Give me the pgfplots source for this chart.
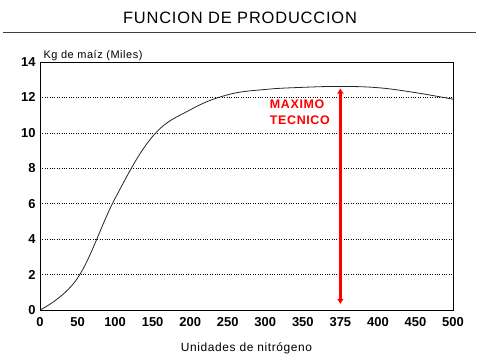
\documentclass[border=0pt]{standalone}
\usepackage{fontspec}
\setmainfont{Liberation Sans}
\newfontfamily\spaced[LetterSpace=5]{Liberation Sans}
\usepackage{pgfplots}
\pgfplotsset{compat=1.18}
\usetikzlibrary{arrows.meta}
\begin{document}
\begin{tikzpicture}
\path[use as bounding box] (0,0) rectangle (480bp,360bp);
\node[anchor=base, font={\fontsize{16.5}{18}\selectfont\spaced}] at (240bp,336.7bp) {FUNCION DE PRODUCCION};
\draw[black!75, line width=0.6bp] (3bp,328bp) -- (476bp,328bp);
\begin{axis}[
  at={(40bp,50bp)}, anchor=south west,
  scale only axis, width=413bp, height=248bp,
  xmin=0, xmax=11, ymin=0, ymax=14,
  xtick={0,...,11},
  xticklabels={0,50,100,150,200,250,300,350,375,400,450,500},
  ytick={0,2,...,14},
  ymajorgrids,
  grid style={dotted, black, line width=0.7bp},
  major tick length=0pt,
  axis line style={black, line width=0.7bp},
  /pgf/number format/assume math mode=true,
  ticklabel style={font={\fontsize{13}{15}\selectfont\bfseries}},
  xticklabel style={yshift=-4bp},
  yticklabel style={xshift=-1bp},
  xlabel={Unidades de nitrógeno},
  every axis x label/.style={at={(axis description cs:0.5,0)}, anchor=base, yshift=-41.7bp, font={\fontsize{12}{14}\selectfont\spaced}},
  ylabel={Kg de maíz (Miles)},
  every axis y label/.style={at={(axis description cs:0,1)}, anchor=base west, yshift=3.3bp, font={\fontsize{11}{13}\selectfont\spaced}},
]
\addplot[black!85, line width=0.8bp, smooth, tension=0.65] coordinates {
  (0,0) (1,1.8) (2,6.3) (3,9.8) (4,11.3) (5,12.15) (6,12.45) (7,12.57) (8,12.62) (9,12.55) (10,12.27) (11,11.9)
};
\addplot[red, line width=2.6bp, {Triangle[length=5bp,width=6bp]}-{Triangle[length=5bp,width=6bp]}] coordinates {(8,0.35) (8,12.5)};
\node[anchor=north west, align=left, text=red, inner sep=0pt, font={\fontsize{12.5}{16}\selectfont\bfseries\addfontfeature{LetterSpace=5}}] at (axis cs:6.12,11.85) {MAXIMO\\TECNICO};
\end{axis}
\end{tikzpicture}
\end{document}
